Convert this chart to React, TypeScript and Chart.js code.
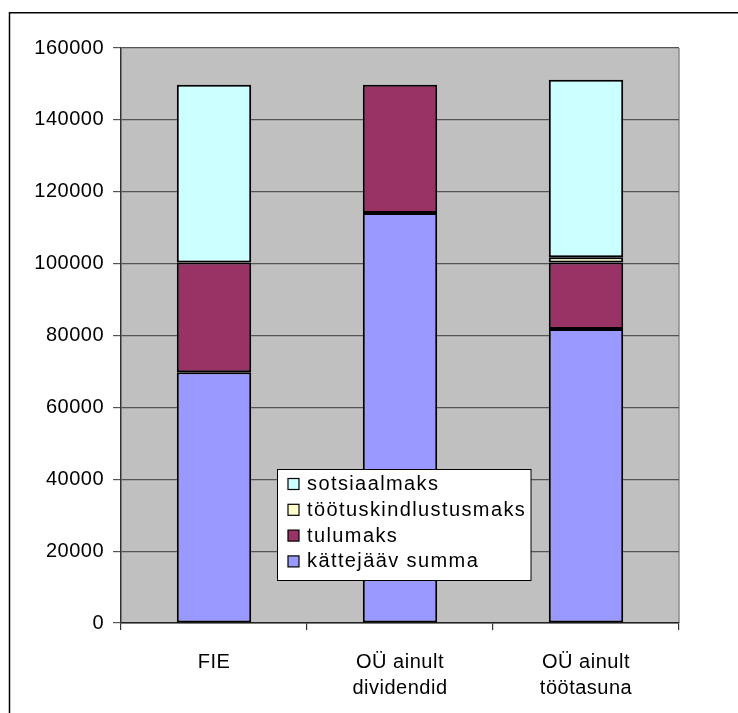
import React, { useEffect, useRef } from "react";
import { Chart, registerables } from "chart.js";

Chart.register(...registerables);

const categories: (string | string[])[] = [
  "FIE",
  ["OÜ ainult", "dividendid"],
  ["OÜ ainult", "töötasuna"],
];

const kattejaavSumma: (number | null)[] = [69800, 114100, 81800];
const tulumaks: (number | null)[] = [30500, 35700, 18500];
const tootuskindlustusmaks: (number | null)[] = [null, null, 1500];
const sotsiaalmaks: (number | null)[] = [49500, null, 49400];

const yTicks: number[] = [0, 20000, 40000, 60000, 80000, 100000, 120000, 140000, 160000];

const FONT = "'Liberation Sans', Arial, sans-serif";

const decorPlugin = {
  id: "decor",
  beforeDraw(chart: any) {
    const { ctx, chartArea } = chart;
    ctx.save();
    ctx.fillStyle = "#ffffff";
    ctx.fillRect(0, 0, chart.width, chart.height);
    // outer chart border
    ctx.strokeStyle = "#000000";
    ctx.lineWidth = 1.5;
    ctx.strokeRect(9.5, 12.75, 900, 900);
    // plot background
    ctx.fillStyle = "#C0C0C0";
    ctx.fillRect(chartArea.left, chartArea.top, chartArea.right - chartArea.left, chartArea.bottom - chartArea.top);
    // plot border (right)
    ctx.strokeStyle = "#8c8c8c";
    ctx.lineWidth = 1.5;
    ctx.beginPath();
    ctx.moveTo(chartArea.right, chartArea.top);
    ctx.lineTo(chartArea.right, chartArea.bottom);
    ctx.stroke();
    ctx.restore();
    (ctx as any).letterSpacing = "0.5px";
  },
  afterDraw(chart: any) {
    const { ctx } = chart;
    ctx.save();
    (ctx as any).letterSpacing = "1.4px";
    const bx = 277.5, by = 469.5, bw = 253.5, bh = 111;
    ctx.fillStyle = "#ffffff";
    ctx.fillRect(bx, by, bw, bh);
    ctx.strokeStyle = "#000000";
    ctx.lineWidth = 1;
    ctx.strokeRect(bx, by, bw, bh);
    const ds = chart.data.datasets.slice().reverse();
    ctx.font = `20px ${FONT}`;
    ctx.textBaseline = "middle";
    ctx.textAlign = "left";
    ds.forEach((d: any, i: number) => {
      const cy = 484.5 + i * 25.8;
      ctx.fillStyle = d.backgroundColor;
      ctx.fillRect(288, cy - 6, 11, 11);
      ctx.strokeStyle = "#000000";
      ctx.lineWidth = 1.2;
      ctx.strokeRect(288, cy - 6, 11, 11);
      ctx.fillStyle = "#000000";
      ctx.fillText(d.label, 307, cy);
    });
    ctx.restore();
  },
};

export default function App() {
  const ref = useRef<HTMLCanvasElement | null>(null);
  useEffect(() => {
    if (!ref.current) return;
    const common = {
      borderColor: "#000000",
      borderWidth: 2,
      borderSkipped: false,
      barPercentage: 0.4,
      categoryPercentage: 1.0,
    };
    const chart = new Chart(ref.current, {
      type: "bar",
      data: {
        labels: categories as any,
        datasets: [
          { label: "kättejääv summa", data: kattejaavSumma, backgroundColor: "#9999FF", ...common },
          { label: "tulumaks", data: tulumaks, backgroundColor: "#993366", ...common },
          { label: "töötuskindlustusmaks", data: tootuskindlustusmaks, backgroundColor: "#FFFFCC", ...common },
          { label: "sotsiaalmaks", data: sotsiaalmaks, backgroundColor: "#CCFFFF", ...common },
        ] as any,
      },
      options: {
        animation: false,
        responsive: false,
        devicePixelRatio: 1,
        layout: { padding: { left: 0, right: 59, top: 48, bottom: 0 } },
        plugins: {
          legend: { display: false },
          tooltip: { enabled: false },
        },
        scales: {
          x: {
            stacked: true,
            offset: true,
            grid: {
              offset: true,
              drawOnChartArea: false,
              drawTicks: true,
              tickLength: 7,
              color: "#333333",
              lineWidth: 1.2,
            },
            border: { display: true, color: "#222222", width: 1.5 },
            ticks: {
              color: "#000000",
              font: { family: FONT, size: 20, lineHeight: 1.3 },
              padding: 19,
              maxRotation: 0,
              autoSkip: false,
            },
            afterFit: (s: any) => {
              s.height = 90;
            },
          } as any,
          y: {
            stacked: true,
            min: 0,
            max: 160000,
            afterBuildTicks: (s: any) => {
              s.ticks = yTicks.map((v) => ({ value: v }));
            },
            grid: {
              color: "#555555",
              lineWidth: 1.2,
              tickLength: 8,
              drawTicks: true,
            },
            border: { display: true, color: "#333333", width: 1.5 },
            ticks: {
              color: "#000000",
              font: { family: FONT, size: 20 },
              padding: 9,
              callback: (v: any) => String(v),
            },
            afterFit: (s: any) => {
              s.width = 121;
            },
          } as any,
        },
      },
      plugins: [decorPlugin],
    });
    return () => chart.destroy();
  }, []);
  return (
    <div style={{ position: "fixed", left: 0, top: 0, width: 738, height: 713, background: "#fff" }}>
      <canvas ref={ref} width={738} height={713} style={{ display: "block", width: 738, height: 713 }} />
    </div>
  );
}
